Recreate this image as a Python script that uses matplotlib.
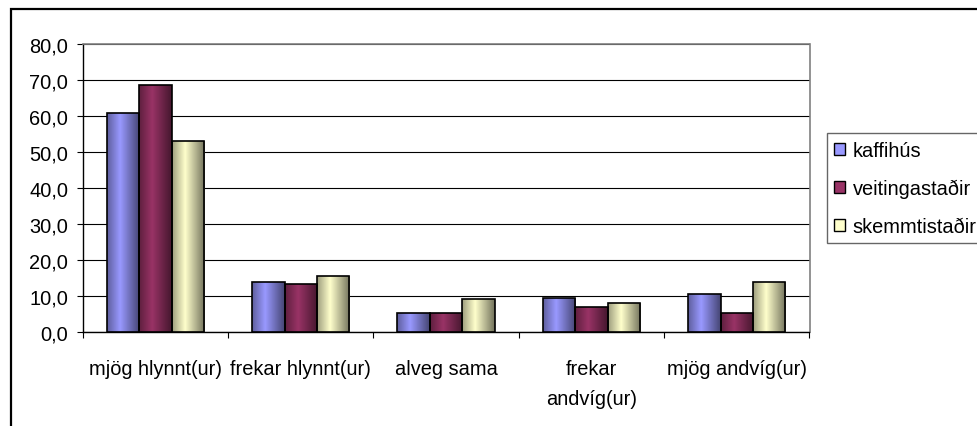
import numpy as np
import matplotlib
matplotlib.use("Agg")
import matplotlib.pyplot as plt
from matplotlib.colors import to_rgb
from matplotlib.patches import Patch, Rectangle
from matplotlib.ticker import FuncFormatter, FixedLocator

plt.rcParams["font.family"] = ["Liberation Sans", "DejaVu Sans"]

categories = ["mjög hlynnt(ur)", "frekar hlynnt(ur)", "alveg sama",
              "frekar\nandvíg(ur)", "mjög andvíg(ur)"]
series = ["kaffihús", "veitingastaðir", "skemmtistaðir"]
kaffihus = [60.9, 13.8, 5.2, 9.4, 10.4]
veitingastadir = [68.6, 13.2, 5.1, 7.0, 5.1]
skemmtistadir = [53.1, 15.6, 9.0, 8.1, 13.8]
colors = ["#9999FF", "#993366", "#FFFFCC"]

W, H = 977, 427
fig = plt.figure(figsize=(W / 100, H / 100), dpi=100)
ax = fig.add_axes([82.7 / W, 1 - 332.7 / H, (809.5 - 82.7) / W, (332.7 - 45.0) / H])

fs = 14.4
bw = 0.223
x = np.arange(len(categories))


def shade(t):
    # excel-ish horizontal gradient: dark edge, bright at ~40%, darker right edge
    return np.interp(t, [0, 0.4, 1.0], [0.62, 1.0, 0.45])


t = np.linspace(0, 1, 64)
for j, (vals, c) in enumerate(zip([kaffihus, veitingastadir, skemmtistadir], colors)):
    pos = x + (j - 1) * bw
    bars = ax.bar(pos, vals, width=bw, color=c, edgecolor="none", zorder=3)
    base = np.array(to_rgb(c))
    grad = np.clip(shade(t)[:, None] * base[None, :], 0, 1)[None, :, :]
    for b in bars:
        im = ax.imshow(grad, extent=[b.get_x(), b.get_x() + b.get_width(), 0, b.get_height()],
                       aspect="auto", interpolation="bilinear", zorder=3.1)
        im.set_clip_path(b)
    ax.bar(pos, vals, width=bw, fill=False, edgecolor="black", linewidth=1.2, zorder=3.2)

ax.set_xlim(-0.5, len(categories) - 0.5)
ax.set_ylim(0, 80)
ax.set_yticks(np.arange(0, 81, 10))
ax.yaxis.set_major_formatter(FuncFormatter(lambda v, p: f"{v:.1f}".replace(".", ",")))
ax.tick_params(axis="y", direction="out", length=4, width=0.8, pad=6.5, labelsize=fs)
ax.yaxis.grid(True, color="black", linewidth=0.8)
ax.set_axisbelow(True)

ax.set_xticks(x)
ax.set_xticklabels(categories)
ax.tick_params(axis="x", which="major", length=0, pad=20, labelsize=fs)
ax.xaxis.set_minor_locator(FixedLocator(np.arange(-0.5, len(categories), 1.0)))
ax.tick_params(axis="x", which="minor", direction="out", length=4.5, width=0.8)
for lab in ax.get_xticklabels():
    lab.set_linespacing(1.7)
    lab.set_verticalalignment("top")

for s in ["top", "right"]:
    ax.spines[s].set_color("#808080")
    ax.spines[s].set_linewidth(1.2)
for s in ["left", "bottom"]:
    ax.spines[s].set_color("black")
    ax.spines[s].set_linewidth(1.0)

handles = [Patch(facecolor=c, edgecolor="black", linewidth=1.0) for c in colors]
leg = fig.legend(handles, series, loc="upper left", bbox_to_anchor=(826.7 / W, 1 - 134 / H),
                 fontsize=fs, frameon=True, fancybox=False, borderaxespad=0,
                 borderpad=0.38, handlelength=0.55, handleheight=0.55,
                 handletextpad=0.36, labelspacing=0.95)
leg.get_frame().set_edgecolor("#404040")
leg.get_frame().set_linewidth(1.0)

# chart border (outer frame, runs off right and bottom)
fig.patches.append(Rectangle((11 / W, -0.05), 1.2, 1 - 10 / H + 0.05, transform=fig.transFigure,
                             fill=False, edgecolor="black", linewidth=1.6))

fig.savefig("out.png", dpi=100)
